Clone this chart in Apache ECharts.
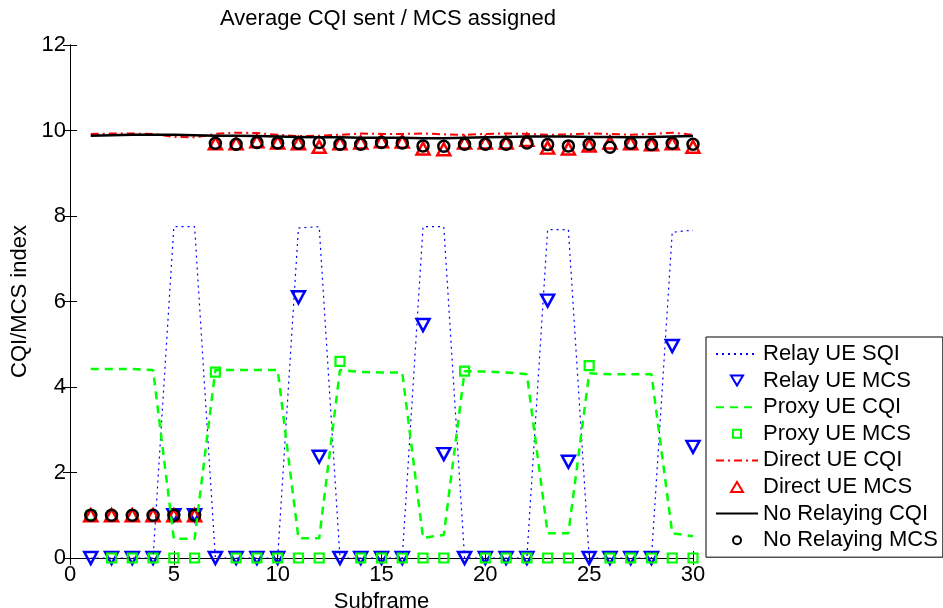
<html>
<head>
    <meta charset="utf-8">
    <title>Average CQI sent / MCS assigned</title>
    <script src="https://cdn.jsdelivr.net/npm/echarts@6/dist/echarts.min.js"></script>
    <style>
        html, body { margin: 0; padding: 0; background: #fff; overflow: hidden; }
        #main { width: 943px; height: 608px; }
    </style>
</head>
<body>
<div id="main"></div>
<script type="text/javascript">
// subframe index
var subframes = [1,2,3,4,5,6,7,8,9,10,11,12,13,14,15,16,17,18,19,20,21,22,23,24,25,26,27,28,29,30];
var xTicks = [0,5,10,15,20,25,30];
var yTicks = [0,2,4,6,8,10,12];

var relaySqi   = [0,0,0,0,7.75,7.75,0,0,0,0,7.72,7.75,0,0,0,0,7.75,7.75,0,0,0,0,7.68,7.68,0,0,0,0,7.62,7.67];
var relayMcs   = [0,0,0,0,1,1,0,0,0,0,6.1,2.37,0,0,0,0,5.45,2.43,0,0,0,0,6.02,2.25,0,0,0,0,4.96,2.6];
var proxyCqi   = [4.42,4.42,4.42,4.4,0.45,0.45,4.4,4.4,4.4,4.4,0.46,0.46,4.4,4.35,4.34,4.34,0.47,0.54,4.37,4.36,4.34,4.3,0.58,0.58,4.32,4.3,4.3,4.3,0.58,0.51];
var proxyMcs   = [1,0,0,0,0,0,4.35,0,0,0,0,0,4.6,0,0,0,0,0,4.37,0,0,0,0,0,4.5,0,0,0,0,0];
var directCqi  = [9.92,9.93,9.93,9.92,9.85,9.84,9.92,9.95,9.94,9.9,9.87,9.88,9.9,9.93,9.92,9.92,9.93,9.91,9.9,9.92,9.93,9.92,9.9,9.91,9.93,9.92,9.9,9.92,9.95,9.9];
var directMcs  = [1,1,1,1,1,1,9.7,9.7,9.75,9.72,9.7,9.62,9.7,9.72,9.75,9.74,9.58,9.56,9.72,9.72,9.72,9.78,9.6,9.58,9.65,9.72,9.7,9.68,9.7,9.62];
var noRelayCqi = [9.88,9.89,9.9,9.9,9.9,9.89,9.88,9.88,9.87,9.86,9.85,9.84,9.84,9.83,9.83,9.83,9.82,9.82,9.83,9.84,9.85,9.86,9.86,9.86,9.85,9.85,9.84,9.85,9.86,9.87];
var noRelayMcs = [1,1,1,1,1,1,9.7,9.68,9.72,9.71,9.7,9.72,9.68,9.68,9.72,9.71,9.64,9.63,9.68,9.68,9.68,9.71,9.67,9.64,9.68,9.61,9.7,9.67,9.7,9.68];

function pairs(vals) {
    return subframes.map(function (x, i) { return [x, vals[i]]; });
}

var FONT = 'Liberation Sans';
var FS = 22;
var downTri = 'path://M0,0 L10,0 L5,9 Z';

// legend icons: the leading M points pad the box to 42x14 so the marker keeps its size
var legDown   = 'path://M0,0 M42,14 M15,2 L27,2 L21,12 Z';
var legUp     = 'path://M0,0 M42,14 M15,12 L27,12 L21,2 Z';
var legSquare = 'path://M0,0 M42,14 M17,3 L25,3 L25,11 L17,11 Z';
var legCircle = 'path://M0,0 M42,14 M17,7 A4,4 0 1,0 25,7 A4,4 0 1,0 17,7 Z';

function lineSeries(name, vals, color, width, type) {
    return {
        name: name, type: 'line', data: pairs(vals),
        symbol: 'none', silent: true,
        lineStyle: { color: color, width: width, type: type },
        itemStyle: { color: color }
    };
}
function markSeries(name, vals, color, symbol, size, bw) {
    return {
        name: name, type: 'scatter', data: pairs(vals),
        symbol: symbol, symbolSize: size, silent: true,
        itemStyle: { color: 'rgba(0,0,0,0)', borderColor: color, borderWidth: bw, opacity: 1 }
    };
}
function lineItem(name) {
    return { name: name, itemStyle: { color: 'rgba(0,0,0,0)', borderWidth: 0, opacity: 0 } };
}

var myChart = echarts.init(document.getElementById('main'), null, { renderer: 'canvas' });

var option = {
    animation: false,
    backgroundColor: '#fff',
    textStyle: { fontFamily: FONT },
    title: {
        text: 'Average CQI sent / MCS assigned',
        left: 383, top: 3, textAlign: 'center',
        textStyle: { fontFamily: FONT, fontSize: FS, fontWeight: 'normal', color: '#000' }
    },
    grid: { left: 70, right: 250, top: 45, bottom: 50, outerBoundsMode: 'none', containLabel: false },
    legend: {
        orient: 'vertical',
        left: 706, top: 337,
        padding: [5, 5, 5, 9],
        itemWidth: 42, itemHeight: 14, itemGap: 2.6,
        backgroundColor: '#fff',
        borderColor: '#000', borderWidth: 1,
        textStyle: { fontFamily: FONT, fontSize: FS, color: '#000', lineHeight: 24 },
        data: [
            lineItem('Relay UE SQI'),
            { name: 'Relay UE MCS', icon: legDown },
            lineItem('Proxy UE CQI'),
            { name: 'Proxy UE MCS', icon: legSquare },
            lineItem('Direct UE CQI'),
            { name: 'Direct UE MCS', icon: legUp },
            lineItem('No Relaying CQI'),
            { name: 'No Relaying MCS', icon: legCircle }
        ]
    },
    xAxis: [{
        type: 'value', min: 0, max: 30, interval: 5,
        name: 'Subframe', nameLocation: 'middle', nameGap: 28,
        nameTextStyle: { fontFamily: FONT, fontSize: FS, color: '#000' },
        axisLine: { lineStyle: { color: '#000', width: 1 } },
        axisTick: { inside: true, length: 7, lineStyle: { color: '#000' } },
        axisLabel: { fontFamily: FONT, fontSize: FS, color: '#000', margin: 6 },
        splitLine: { show: false }
    }, {
        type: 'value', min: 0, max: 30, interval: 5, position: 'top',
        axisLine: { lineStyle: { color: '#000', width: 1 } },
        axisTick: { inside: true, length: 7, lineStyle: { color: '#000' } },
        axisLabel: { show: false }, splitLine: { show: false }
    }],
    yAxis: [{
        type: 'value', min: 0, max: 12, interval: 2,
        name: 'CQI/MCS index', nameLocation: 'middle', nameGap: 32,
        nameTextStyle: { fontFamily: FONT, fontSize: FS, color: '#000' },
        axisLine: { show: true, lineStyle: { color: '#000', width: 1 } },
        axisTick: { show: true, inside: true, length: 7, lineStyle: { color: '#000' } },
        axisLabel: { fontFamily: FONT, fontSize: FS, color: '#000', margin: 4 },
        splitLine: { show: false }
    }, {
        type: 'value', min: 0, max: 12, interval: 2, position: 'right',
        axisLine: { show: true, lineStyle: { color: '#000', width: 1 } },
        axisTick: { show: true, inside: true, length: 7, lineStyle: { color: '#000' } },
        axisLabel: { show: false }, splitLine: { show: false }
    }],
    series: [
        lineSeries('Relay UE SQI', relaySqi, '#0000ff', 1.2, [2, 4]),
        markSeries('Relay UE MCS', relayMcs, '#0000ff', downTri, [13, 12], 2.5),
        lineSeries('Proxy UE CQI', proxyCqi, '#00ff00', 2.5, [8, 6]),
        markSeries('Proxy UE MCS', proxyMcs, '#00ff00', 'rect', 9, 2.2),
        lineSeries('Direct UE CQI', directCqi, '#ff0000', 2, [8, 4, 2, 4]),
        markSeries('Direct UE MCS', directMcs, '#ff0000', 'triangle', [13, 12], 2.5),
        lineSeries('No Relaying CQI', noRelayCqi, '#000000', 2.5, 'solid'),
        markSeries('No Relaying MCS', noRelayMcs, '#000000', 'circle', 11, 2.5)
    ]
};
myChart.setOption(option);
</script>
</body>
</html>
